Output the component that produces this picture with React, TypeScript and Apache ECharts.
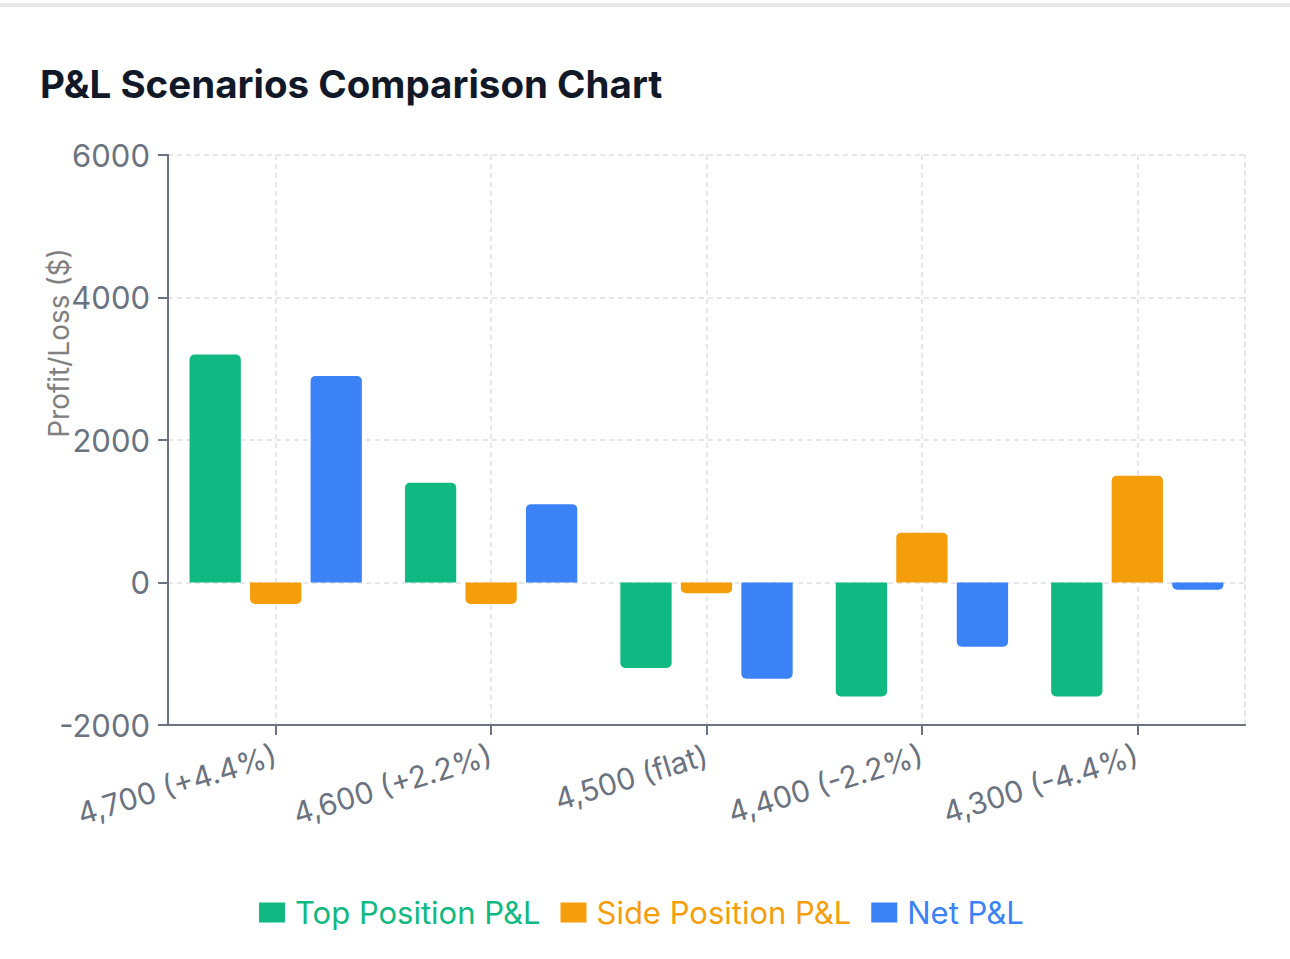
import React, { useEffect, useRef } from 'react';
import * as echarts from 'echarts';

const scenarios = ['4,700 (+4.4%)', '4,600 (+2.2%)', '4,500 (flat)', '4,400 (-2.2%)', '4,300 (-4.4%)'];
const topPnl = [3200, 1400, -1200, -1600, -1600];
const sidePnl = [-300, -300, -150, 700, 1500];
const netPnl = [2900, 1100, -1350, -900, -100];

const seriesNames = ['Top Position P&L', 'Side Position P&L', 'Net P&L'];
const seriesColors = ['#10b981', '#f59e0b', '#3b82f6'];

const FONT = 'Inter, "Noto Sans", sans-serif';
const AXIS_COLOR = '#6b7280';
const GRID_COLOR = '#e5e7eb';

const toBars = (values: number[]) =>
  values.map((v) => ({
    value: v,
    itemStyle: { borderRadius: v >= 0 ? [5, 5, 0, 0] : [0, 0, 5, 5] },
  }));

const App: React.FC = () => {
  const chartRef = useRef<HTMLDivElement | null>(null);

  useEffect(() => {
    const chart = echarts.init(chartRef.current!, null, { renderer: 'svg' });

    const option = {
      animation: false,
      textStyle: { fontFamily: FONT },
      title: {
        text: 'P&L Scenarios Comparison Chart',
        left: 35,
        top: 59,
        textStyle: { fontFamily: FONT, fontSize: 38.5, fontWeight: 'bold', color: '#111827' },
      },
      graphic: [
        {
          type: 'text',
          x: 59,
          y: 343,
          rotation: Math.PI / 2,
          style: {
            text: 'Profit/Loss ($)',
            fill: '#808080',
            font: `28px ${FONT}`,
            align: 'center',
            verticalAlign: 'middle',
          },
        },
      ],
      legend: {
        top: 892,
        left: 254,
        icon: 'rect',
        itemWidth: 26,
        itemHeight: 20,
        itemGap: 20,
        textStyle: { fontFamily: FONT, fontSize: 31, padding: [0, 0, 0, 5] },
        data: seriesNames.map((name, i) => ({ name, textStyle: { color: seriesColors[i] } })),
      },
      grid: { left: 168, right: 45, top: 155, bottom: 234 },
      xAxis: {
        type: 'category',
        data: scenarios,
        axisLine: { show: true, onZero: false, lineStyle: { color: AXIS_COLOR, width: 2 } },
        axisTick: { show: true, alignWithLabel: true, length: 10, lineStyle: { color: AXIS_COLOR, width: 2 } },
        axisLabel: { color: AXIS_COLOR, fontSize: 30, rotate: 17, margin: 29, fontFamily: FONT },
        splitLine: { show: true, alignWithLabel: true, lineStyle: { color: GRID_COLOR, width: 2, type: [5, 4] } },
      },
      yAxis: [
        {
          type: 'value',
          min: -2000,
          max: 6000,
          interval: 2000,
          axisLine: { show: true, lineStyle: { color: AXIS_COLOR, width: 2 } },
          axisTick: { show: true, length: 10, lineStyle: { color: AXIS_COLOR, width: 2 } },
          axisLabel: {
            color: AXIS_COLOR,
            fontSize: 31,
            margin: 18,
            fontFamily: FONT,
            formatter: (v: number) => String(v),
          },
          splitLine: { show: true, lineStyle: { color: GRID_COLOR, width: 2, type: [5, 4] } },
        },
        {
          type: 'value',
          position: 'right',
          min: -2000,
          max: 6000,
          interval: 2000,
          axisLine: { show: true, lineStyle: { color: GRID_COLOR, width: 2, type: [5, 4] } },
          axisTick: { show: false },
          axisLabel: { show: false },
          splitLine: { show: false },
        },
      ],
      series: [topPnl, sidePnl, netPnl].map((values, i) => ({
        name: seriesNames[i],
        type: 'bar',
        yAxisIndex: 0,
        data: toBars(values),
        itemStyle: { color: seriesColors[i] },
        barGap: '18%',
        barCategoryGap: '20%',
      })),
    };

    chart.setOption(option as echarts.EChartsOption);

    return () => {
      chart.dispose();
    };
  }, []);

  return (
    <div style={{ position: 'absolute', left: 0, top: 0, width: 1290, height: 959, background: '#fff' }}>
      <div style={{ position: 'absolute', left: 0, top: 3, width: 1290, height: 4, background: GRID_COLOR }} />
      <div ref={chartRef} style={{ position: 'absolute', left: 0, top: 0, width: 1290, height: 959 }} />
    </div>
  );
};

export default App;
